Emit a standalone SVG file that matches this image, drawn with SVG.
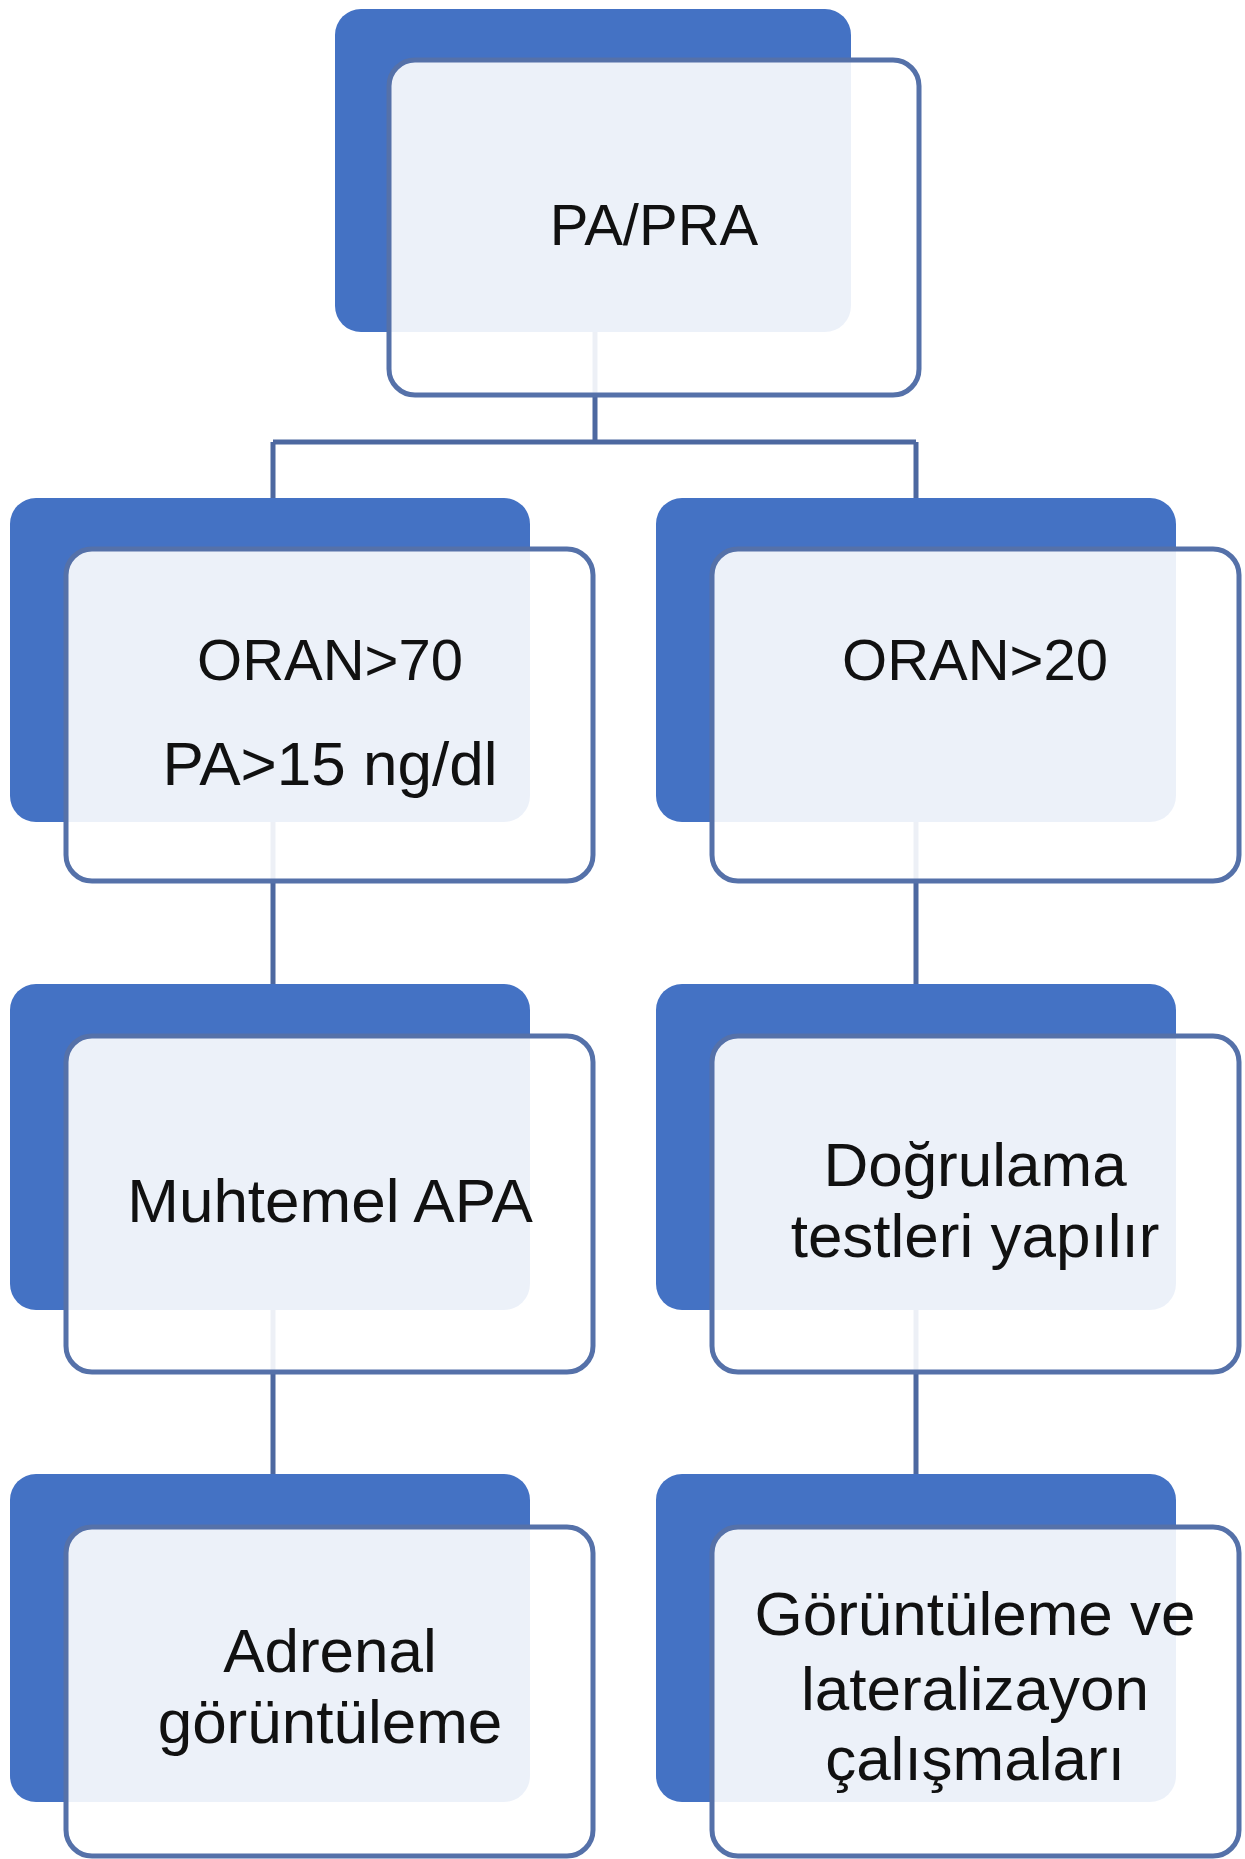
<svg xmlns="http://www.w3.org/2000/svg" width="1245" height="1859" viewBox="0 0 1245 1859">
<style>
.back{fill:#4472c4}
.front{fill:#ffffff;fill-opacity:0.9;stroke:#5571a9;stroke-width:5}
.lbl{font-family:"Liberation Sans",Arial,sans-serif;font-size:62px;fill:#111;text-anchor:middle}
.sm{font-size:58px}
.con{stroke:#4d68a0;stroke-width:5;fill:none}
</style>
<rect width="1245" height="1859" fill="#ffffff"/>
<g id="connectors">
<path class="con" d="M595,332 V442 M273,442 H916 M273,442 V498 M916,442 V498"/>
<path class="con" d="M273,822 V984 M916,822 V984"/>
<path class="con" d="M273,1310 V1474 M916,1310 V1474"/>
</g>
<g id="node-top">
<rect class="back" x="335" y="9" width="516" height="323" rx="26"/>
<rect class="front" x="389" y="60" width="530" height="335" rx="26"/>
<text class="lbl sm" x="654" y="245">PA/PRA</text>
</g>
<g id="node-oran70">
<rect class="back" x="10" y="498" width="520" height="324" rx="26"/>
<rect class="front" x="66" y="549" width="527" height="332" rx="26"/>
<text class="lbl sm" x="330" y="680">ORAN&gt;70</text>
<text class="lbl" x="330" y="785">PA&gt;15 ng/dl</text>
</g>
<g id="node-oran20">
<rect class="back" x="656" y="498" width="520" height="324" rx="26"/>
<rect class="front" x="712" y="549" width="527" height="332" rx="26"/>
<text class="lbl sm" x="975" y="680">ORAN&gt;20</text>
</g>
<g id="node-apa">
<rect class="back" x="10" y="984" width="520" height="326" rx="26"/>
<rect class="front" x="66" y="1036" width="527" height="336" rx="26"/>
<text class="lbl" x="330" y="1222">Muhtemel APA</text>
</g>
<g id="node-dogrulama">
<rect class="back" x="656" y="984" width="520" height="326" rx="26"/>
<rect class="front" x="712" y="1036" width="527" height="336" rx="26"/>
<text class="lbl" x="975" y="1186">Doğrulama</text>
<text class="lbl" x="975" y="1257">testleri yapılır</text>
</g>
<g id="node-adrenal">
<rect class="back" x="10" y="1474" width="520" height="328" rx="26"/>
<rect class="front" x="66" y="1527" width="527" height="329" rx="26"/>
<text class="lbl" x="330" y="1672">Adrenal</text>
<text class="lbl" x="330" y="1743">görüntüleme</text>
</g>
<g id="node-lateralizasyon">
<rect class="back" x="656" y="1474" width="520" height="328" rx="26"/>
<rect class="front" x="712" y="1527" width="527" height="329" rx="26"/>
<text class="lbl" x="975" y="1635">Görüntüleme ve</text>
<text class="lbl" x="975" y="1710">lateralizayon</text>
<text class="lbl" x="975" y="1780">çalışmaları</text>
</g>
</svg>
